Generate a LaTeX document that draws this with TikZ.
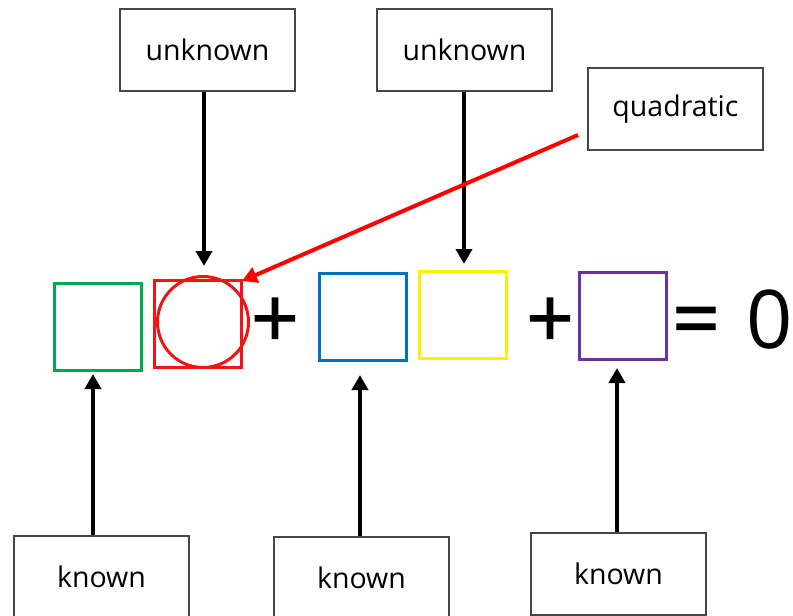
\documentclass[tikz,border=0pt]{standalone}
\usepackage{fontspec}
\setmainfont{Open Sans}
\usetikzlibrary{arrows.meta}
\definecolor{slotgreen}{RGB}{0,168,80}
\definecolor{slotred}{RGB}{240,20,20}
\definecolor{slotblue}{RGB}{0,112,192}
\definecolor{slotyellow}{RGB}{255,240,0}
\definecolor{slotpurple}{RGB}{112,48,160}
\definecolor{boxline}{RGB}{70,70,70}
\begin{document}
\begin{tikzpicture}[x=1pt,y=-1pt,
  tag/.style={draw=boxline, line width=1.3pt, minimum width=175pt, minimum height=82pt,
    inner sep=0pt, font=\fontsize{28.5}{30}\selectfont},
  slot/.style={draw=#1, line width=3pt, minimum size=87pt, inner sep=0pt},
  pointer/.style={line width=4pt, -{Triangle[length=15pt,width=16pt]}},
  sym/.style={anchor=base, inner sep=0pt, font=\fontsize{84}{90}\selectfont},
  op/.style={sym, font=\fontsize{84}{90}\selectfont\addfontfeature{FakeBold=1.2}}]
\useasboundingbox (0,0) rectangle (793,616);

% label boxes
\node[tag] (u1) at (207.5,50) {unknown};
\node[tag] (u2) at (464.5,50) {unknown};
\node[tag] (quad) at (675.5,109) {quadratic};
\node[tag] (k1) at (101.5,577) {known};
\node[tag] (k2) at (361.5,578) {known};
\node[tag] (k3) at (618.5,574) {known};

% the equation slots
\node[slot=slotgreen] (s1) at (98,327) {};
\node[slot=slotred] (s2) at (198,324) {};
\node[draw=slotred, line width=3pt, circle, minimum size=91pt, inner sep=0pt] (c2) at (203,322) {};
\node[slot=slotblue] (s3) at (363,317) {};
\node[slot=slotyellow] (s4) at (463,315) {};
\node[slot=slotpurple] (s5) at (623,316) {};

% operators and right-hand side
\node[op] (p1) at (275,348) {+};
\node[op] (p2) at (550,348) {+};
\node[op] (eq) at (696,348) {=};
\node[sym, anchor=base west, font=\fontsize{81}{90}\selectfont] (zero) at (746,348) {0};

% arrow ends
\coordinate (t1) at (204,266);
\coordinate (t2) at (464,264);
\coordinate (b1) at (93,374);
\coordinate (b2) at (360,375);
\coordinate (b3) at (617,368);
\coordinate (rs) at (578,135);
\coordinate (rt) at (242,281);

\draw[pointer] (u1.south -| t1) -- (t1);
\draw[pointer] (u2.south -| t2) -- (t2);
\draw[pointer] (k1.north -| b1) -- (b1);
\draw[pointer] (k2.north -| b2) -- (b2);
\draw[pointer] (k3.north -| b3) -- (b3);
\draw[pointer, draw=red, fill=red] (rs) -- (rt);
\end{tikzpicture}
\end{document}
